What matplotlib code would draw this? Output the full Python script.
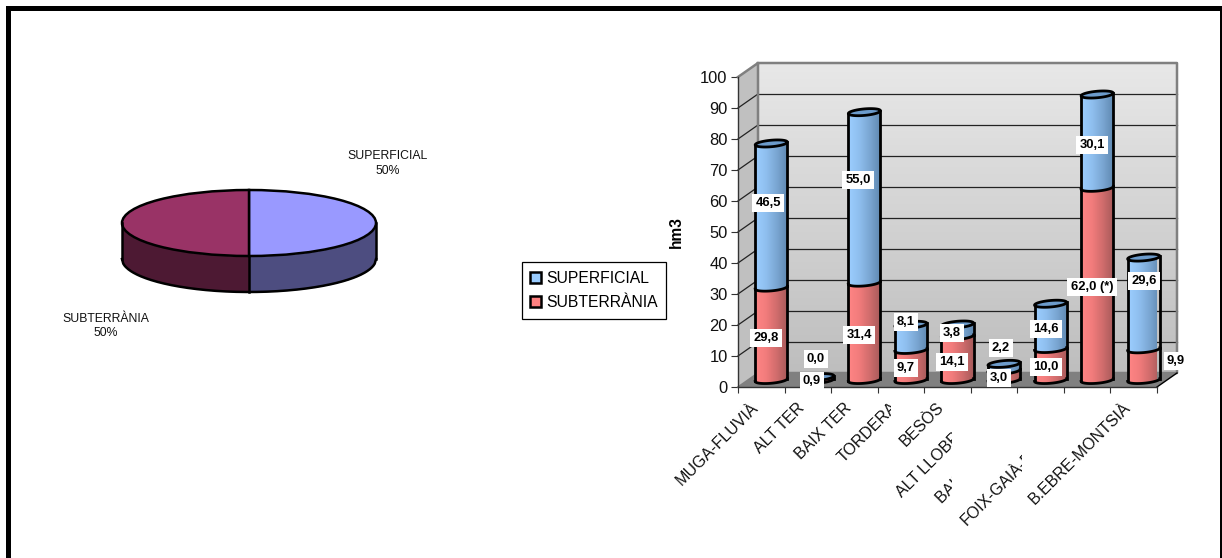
"""Reservoir volumes by basin: 3D style pie and stacked cylinders."""

from __future__ import annotations

import matplotlib

matplotlib.use("Agg")
import matplotlib.pyplot as plt  # noqa: E402
import numpy as np  # noqa: E402
from matplotlib.colors import LinearSegmentedColormap  # noqa: E402
from matplotlib.patches import Patch, Polygon, Rectangle  # noqa: E402
from matplotlib.transforms import Affine2D  # noqa: E402

W, H = 1222, 558

categories = [
    "MUGA-FLUVIÀ",
    "ALT TER",
    "BAIX TER",
    "TORDERA",
    "BESÒS",
    "ALT LLOBREGAT",
    "BAIX LLOBREGAT",
    "FOIX-GAIÀ-FRANCOLÍ",
    "B.EBRE-MONTSIÀ",
]
subterrania = [29.8, 0.9, 31.4, 9.7, 14.1, 3.0, 10.0, 62.0, 9.9]
superficial = [46.5, 0.0, 55.0, 8.1, 3.8, 2.2, 14.6, 30.1, 29.6]
y_ticks = list(range(0, 101, 10))

pie_labels = ["SUPERFICIAL", "SUBTERRÀNIA"]
pie_values = [50, 50]

# label layout, in image pixels
sup_label_px = [(768, 203), (816, 359), (858, 180), (906, 322), (952, 333),
                (1001, 348), (1046, 329), (1092, 145), (1144, 281)]
sub_label_px = [(766, 338), (812, 381), (859, 335), (906, 368), (952, 362),
                (999, 378), (1046, 367), (1092, 287), (1176, 361)]
label_suffix = {7: " (*)"}
clip_right = {3: 891, 5: 952, 6: 952, 7: 1022}

FONT = "Liberation Sans"
BLUE = LinearSegmentedColormap.from_list("b", ["#9CCEFF", "#8FBFEF", "#7AA6D2", "#5F88B0"])
RED = LinearSegmentedColormap.from_list("r", ["#FF8585", "#F27C7C", "#D06C6C", "#A65A5A"])
WALL = LinearSegmentedColormap.from_list("w", ["#BEBEBE", "#E8E8E8"])
CAP_BLUE = "#6C9BCB"
BAR_LW = 2.0

# pixel coordinates, y going down
px = Affine2D().scale(1, -1).translate(0, H)


def rect_px(x0, y0, x1, y1):
    return [x0 / W, 1 - y1 / H, (x1 - x0) / W, (y1 - y0) / H]


def arc(xc, yc, a, b, tilt, t0, t1):
    t = np.linspace(t0, t1, 50)
    return np.column_stack([xc + a * np.cos(t), yc + b * np.sin(t) + tilt * np.cos(t)])


def draw_segment(ax, xc, v0, v1, cmap, a=0.345, b=1.05, tilt=0.45):
    if v1 <= v0:
        return
    low = arc(xc, v0, a, b, tilt, np.pi, 2 * np.pi)
    high = arc(xc, v1, a, b, tilt, 0, np.pi)
    poly = Polygon(np.vstack([low, high]), closed=True, fc="none", ec="none", transform=ax.transData)
    ax.add_patch(poly)
    grad = np.linspace(0, 1, 64).reshape(1, -1)
    im = ax.imshow(grad, cmap=cmap, aspect="auto", zorder=3,
                   extent=(xc - a, xc + a, v0 - b - tilt, v1 + b + tilt))
    im.set_clip_path(poly)
    ax.plot(low[:, 0], low[:, 1], color="black", lw=BAR_LW, zorder=3, clip_on=False)
    ax.plot([low[0, 0], high[-1, 0]], [low[0, 1], high[-1, 1]], color="black", lw=BAR_LW, zorder=3, clip_on=False)
    ax.plot([low[-1, 0], high[0, 0]], [low[-1, 1], high[0, 1]], color="black", lw=BAR_LW, zorder=3, clip_on=False)


def draw_cap(ax, xc, v, a=0.345, b=1.05, tilt=0.45):
    pts = arc(xc, v, a, b, tilt, 0, 2 * np.pi)
    ax.add_patch(Polygon(pts, closed=True, fc=CAP_BLUE, ec="black", lw=BAR_LW, zorder=3, clip_on=False))


def draw_pie(fig):
    ax = fig.add_axes(rect_px(122, 190, 376, 292))
    depth = 36 / 33
    x = np.linspace(-1, 1, 201)
    front = -np.sqrt(1 - x**2)
    ax.fill_between(x[x >= 0], front[x >= 0], front[x >= 0] - depth, color="#4D4D80", lw=0, clip_on=False)
    ax.fill_between(x[x <= 0], front[x <= 0], front[x <= 0] - depth, color="#4D1933", lw=0, clip_on=False)
    ax.plot(x, front - depth, color="black", lw=1.8, clip_on=False)
    ax.plot([-1, -1], [0, -depth], color="black", lw=1.8, clip_on=False)
    ax.plot([1, 1], [0, -depth], color="black", lw=1.8, clip_on=False)
    ax.plot([0, 0], [-1, -1 - depth], color="black", lw=1.8, clip_on=False)
    ax.pie(pie_values, colors=["#9999FF", "#993366"], startangle=90, counterclock=False,
           wedgeprops={"edgecolor": "black", "linewidth": 1.8, "clip_on": False})
    ax.set_aspect("auto")
    ax.set_xlim(-1, 1)
    ax.set_ylim(-1 - depth, 1)
    ax.axis("off")

    for name, val, (tx, ty) in zip(pie_labels, pie_values, [(387.5, 163.5), (106, 326)]):
        fig.text(tx, ty, f"{name}\n{val}%", transform=px, ha="center", va="center",
                 fontsize=8.8, family=FONT, color="#111111", linespacing=1.3)


def data_label(fig, pos, txt):
    fig.text(pos[0], pos[1], txt, transform=px, ha="center", va="center", fontsize=9.4, family=FONT,
             weight="bold", color="black", zorder=5,
             bbox={"fc": "white", "ec": "none", "pad": 2.4})


def draw_bars(fig):
    ax = fig.add_axes(rect_px(738, 77, 1157, 387))
    n = len(categories)
    ax.set_xlim(0, n)
    ax.set_ylim(0, 100)
    dx, dy = 20 / (419 / n), 14 / 3.1  # depth of the box, in data units

    # back wall, side wall and floor
    ax.imshow(np.linspace(0, 1, 128).reshape(-1, 1), cmap=WALL, aspect="auto", origin="lower",
              extent=(dx, n + dx, dy, 100 + dy), zorder=0, clip_on=False)
    ax.add_patch(Polygon([(0, 0), (dx, dy), (dx, 100 + dy), (0, 100)], fc="#C0C0C0", ec="none", zorder=1, clip_on=False))
    ax.add_patch(Polygon([(0, 0), (n, 0), (n + dx, dy), (dx, dy)], fc="#808080", ec="none", zorder=1, clip_on=False))
    for v in y_ticks[1:-1]:
        ax.plot([dx, n + dx], [v + dy, v + dy], color="#222222", lw=0.9, zorder=1.5, clip_on=False)
        ax.plot([0, dx], [v, v + dy], color="#222222", lw=0.9, zorder=1.5, clip_on=False)
    ax.plot([0, dx, dx, n + dx, n + dx, dx], [100, 100 + dy, dy, dy, 100 + dy, 100 + dy],
            color="#808080", lw=1.8, zorder=1.6, clip_on=False)
    ax.plot([0, dx], [0, dy], color="#808080", lw=1.2, zorder=1.6, clip_on=False)
    ax.plot([n, n + dx], [0, dy], color="black", lw=1.0, zorder=1.7, clip_on=False)
    ax.set_xlim(0, n)
    ax.set_ylim(0, 100)

    base = 7 / 3.1
    for i in range(n):
        xc = i + 0.5 + dx / 2
        sub, sup = subterrania[i], superficial[i]
        draw_segment(ax, xc, base, base + sub, RED)
        if sup == 0:
            # flat bar, only the lower rim and the cap are visible
            draw_cap(ax, xc, base + sub)
        else:
            draw_segment(ax, xc, base + sub, base + sub + sup, BLUE)
            draw_cap(ax, xc, base + sub + sup)

    ax.patch.set_visible(False)
    for side in ("top", "right"):
        ax.spines[side].set_visible(False)
    for side in ("left", "bottom"):
        ax.spines[side].set_color("#333333")
        ax.spines[side].set_linewidth(1.0)
        ax.spines[side].set_zorder(2)
    ax.set_xticks(range(n + 1))
    ax.set_xticklabels([])
    ax.set_yticks(y_ticks)
    ax.set_yticklabels([str(v) for v in y_ticks], fontsize=11.9, family=FONT, color="#111111")
    ax.tick_params(axis="y", length=5, width=0.8, pad=2.5, color="#333333")
    ax.tick_params(axis="x", length=4.6, width=0.8, color="#333333")

    # data labels
    for i in range(n):
        data_label(fig, sup_label_px[i], f"{superficial[i]:.1f}".replace(".", ","))
        data_label(fig, sub_label_px[i], f"{subterrania[i]:.1f}".replace(".", ",") + label_suffix.get(i, ""))

    # category labels, some are cut off on the right
    for i, name in enumerate(categories):
        xc = (i + 0.5) * 419 / n + 738
        t = fig.text(xc - 11, 400, name, transform=px, rotation=45, rotation_mode="anchor",
                     ha="right", va="top", fontsize=11.5, family=FONT, color="#111111")
        if i in clip_right:
            t.set_clip_path(Rectangle((0, 0), clip_right[i], H, transform=px))
            t.set_clip_on(True)

    fig.text(676, 232, "hm3", transform=px, rotation=90, ha="center", va="center",
             fontsize=11.2, family=FONT, weight="bold", color="black")


def main() -> None:
    fig = plt.figure(figsize=(W / 100, H / 100), dpi=100, facecolor="white")

    for x0, y0, x1, y1 in [(6, 6, 11, H), (6, 6, W, 11), (1220, 6, W, H)]:
        fig.add_artist(Rectangle((x0, y0), x1 - x0, y1 - y0, transform=px, fc="black", ec="none"))

    draw_pie(fig)
    draw_bars(fig)

    handles = [
        Patch(fc="#99CCFF", ec="black", lw=1.8, label="SUPERFICIAL"),
        Patch(fc="#FF8080", ec="black", lw=1.8, label="SUBTERRÀNIA"),
    ]
    leg = fig.legend(handles=handles, loc="center", bbox_to_anchor=(594 / W, 1 - 290.5 / H),
                     prop={"family": FONT, "size": 11.3}, fancybox=False, framealpha=1,
                     edgecolor="black", handlelength=0.72, handleheight=0.72, handletextpad=0.3,
                     labelspacing=0.62, borderpad=0.55, borderaxespad=0)
    leg.get_frame().set_linewidth(0.9)

    fig.savefig("out.png", dpi=100)
    plt.close(fig)


if __name__ == "__main__":
    main()
